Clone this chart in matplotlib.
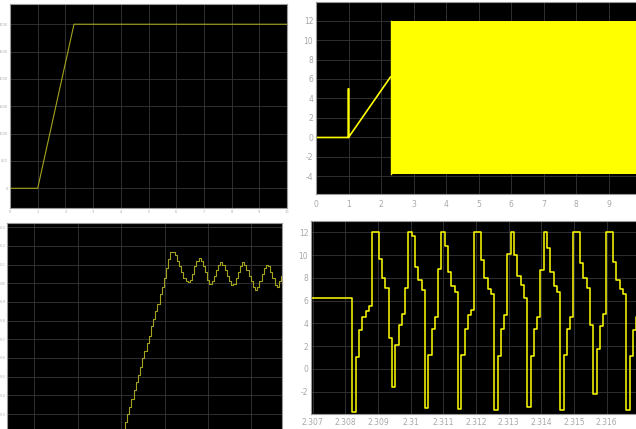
import numpy as np
import matplotlib
matplotlib.use("Agg")
import matplotlib.pyplot as plt
from matplotlib.ticker import FuncFormatter

# ---------------- data ----------------
# top-left: speed reference (rpm) vs time (s)
tl_t = [0.0, 1.0, 2.31, 10.0]
tl_speed = [0.0, 0.0, 3000.0, 3000.0]

# top-right: phase voltage (V) vs time (s)
tr_t = [0.0, 1.0, 1.0, 1.0, 2.29]
tr_v = [0.0, 0.0, 5.0, 0.0, 6.2]
tr_band_t = [2.30, 10.0]
tr_band_hi = [12.0, 12.0]
tr_band_lo = [-3.72, -3.72]

# bottom-left: zoomed speed (rpm), one value per sample
bl_t0 = 1.836
bl_dt = 0.05
bl_speed = [2999.05, 2999.09, 2999.13, 2999.17, 2999.21, 2999.26, 2999.30, 2999.34,
            2999.38, 2999.43, 2999.47, 2999.51, 2999.55, 2999.60, 2999.64, 2999.68,
            2999.72, 2999.77, 2999.81, 2999.85, 2999.89, 2999.94, 2999.98, 3000.03,
            3000.08, 3000.13, 3000.166, 3000.166, 3000.15, 3000.12, 3000.09, 3000.06,
            3000.03, 3000.01, 3000.005, 3000.02, 3000.05, 3000.09, 3000.12, 3000.134,
            3000.12, 3000.09, 3000.06, 3000.02, 2999.996, 3000.01, 3000.04, 3000.07,
            3000.10, 3000.112, 3000.10, 3000.07, 3000.04, 3000.01, 2999.99, 2999.995,
            3000.03, 3000.06, 3000.09, 3000.112, 3000.10, 3000.07, 3000.04, 3000.01,
            2999.98, 2999.963, 2999.98, 3000.01, 3000.05, 3000.08, 3000.098, 3000.09,
            3000.06, 3000.03, 2999.99, 2999.979, 3000.01, 3000.04]

# bottom-right: zoomed phase voltage (V), one value per sample
br_start_t = 2.3069
br_start_v = 6.26
br_t0 = 2.308214
br_dt = 0.000101
br_v = [-3.76, 1.02, 3.42, 4.59, 5.12, 5.53, 12, 12, 9.7, 7.95,
        7.1, 2.7, -1.6, 2.1, 3.9, 4.8, 7.1, 12, 11.7, 9.0,
        7.8, 6.9, -3.4, 1.2, 3.5, 4.6, 8.8, 12, 10.8, 8.5,
        7.3, 6.8, -3.5, 1.2, 3.5, 4.7, 5.2, 12, 12, 9.6,
        8.0, 7.0, 6.6, -3.6, 1.1, 3.5, 4.7, 10.1, 12, 10.0,
        8.2, 7.4, 6.2, -3.3, 1.1, 3.5, 4.6, 8.7, 12, 10.6,
        8.5, 7.3, 6.8, -3.6, 1.2, 3.5, 4.6, 12, 12, 9.3,
        8.0, 7.1, 3.9, -2.2, 1.8, 3.8, 4.8, 12, 12, 9.4,
        7.8, 7.0, 6.6, -3.6, 1.1, 3.4, 4.6, 4.6]

# tick values
tl_xticks = list(range(0, 11))
tl_yticks = [0, 500, 1000, 1500, 2000, 2500, 3000]
tr_xticks = list(range(0, 11))
tr_yticks = [-4, -2, 0, 2, 4, 6, 8, 10, 12]
bl_xticks = [0, 1, 2, 3, 4, 5]
bl_yticks = [2999.3, 2999.4, 2999.5, 2999.6, 2999.7, 2999.8, 2999.9, 3000.0,
             3000.1, 3000.2, 3000.3]
br_xticks = [2.307, 2.308, 2.309, 2.310, 2.311, 2.312, 2.313, 2.314, 2.315, 2.316]
br_yticks = [-2, 0, 2, 4, 6, 8, 10, 12]

# ---------------- figure ----------------
W, H = 636, 429
fig = plt.figure(figsize=(W / 100, H / 100), dpi=100)
fig.patch.set_facecolor("white")

GRID = "#363636"
SPINE = "#9a9a9a"
LAB = "#a8a8a8"
YEL = "#ffff00"
DIM = "#a3a31e"


def px_axes(left, top, right, bottom):
    return fig.add_axes([left / W, 1 - bottom / H, (right - left) / W, (bottom - top) / H])


def style(ax, fs):
    ax.set_facecolor("black")
    ax.grid(True, color=GRID, lw=0.6)
    ax.set_axisbelow(True)
    for s in ax.spines.values():
        s.set_color(SPINE)
        s.set_linewidth(0.8)
    ax.tick_params(length=0, labelsize=fs, labelcolor=LAB, pad=2)


fmt_g = FuncFormatter(lambda v, p: "%g" % round(v, 6))

# top-left
ax1 = px_axes(10, 4, 287, 208)
style(ax1, 2.5)
ax1.plot(tl_t, tl_speed, color=DIM, lw=0.8)
ax1.set_xlim(0, 10)
ax1.set_ylim(-360, 3370)
ax1.set_xticks(tl_xticks)
ax1.set_yticks(tl_yticks)
ax1.xaxis.set_major_formatter(fmt_g)
ax1.tick_params(pad=1.5)

# top-right
ax2 = px_axes(316, 2, 641, 194)
style(ax2, 5.5)
ax2.fill_between(tr_band_t, tr_band_lo, tr_band_hi, color=YEL, lw=0)
ax2.plot(tr_t, tr_v, color=YEL, lw=1.2)
ax2.plot([tr_band_t[0], tr_band_t[0]], [tr_band_lo[0], tr_band_hi[0]], color=YEL, lw=1.0)
ax2.set_xlim(0, 10)
ax2.set_ylim(-5.8, 13.9)
ax2.set_xticks(tr_xticks)
ax2.set_yticks(tr_yticks)
ax2.xaxis.set_major_formatter(fmt_g)
ax2.yaxis.set_major_formatter(fmt_g)
ax2.tick_params(axis="x", pad=4)

# bottom-left
ax3 = px_axes(7, 223.3, 282, 440)
style(ax3, 2.2)
bl_t = bl_t0 + bl_dt * np.arange(len(bl_speed))
ax3.step(bl_t, bl_speed, where="post", color=DIM, lw=0.8)
ax3.set_xlim(-0.629, 5.707)
ax3.set_ylim(2999.161, 3000.321)
ax3.set_xticks(bl_xticks)
ax3.set_yticks(bl_yticks)
ax3.set_xticklabels([])
ax3.yaxis.set_major_formatter(fmt_g)
ax3.tick_params(pad=1)

# bottom-right
ax4 = px_axes(311, 221, 650, 414.3)
style(ax4, 5.5)
br_t = np.concatenate([[br_start_t], br_t0 + br_dt * np.arange(len(br_v))])
br_vals = [br_start_v] + br_v
ax4.step(br_t, br_vals, where="post", color=YEL, lw=1.1)
ax4.set_xlim(2.306948, 2.317325)
ax4.set_ylim(-3.98, 13.0)
ax4.set_xticks(br_xticks)
ax4.set_yticks(br_yticks)
ax4.xaxis.set_major_formatter(fmt_g)
ax4.yaxis.set_major_formatter(fmt_g)
ax4.tick_params(axis="x", pad=3)

fig.savefig("out.png", dpi=100, facecolor="white")
